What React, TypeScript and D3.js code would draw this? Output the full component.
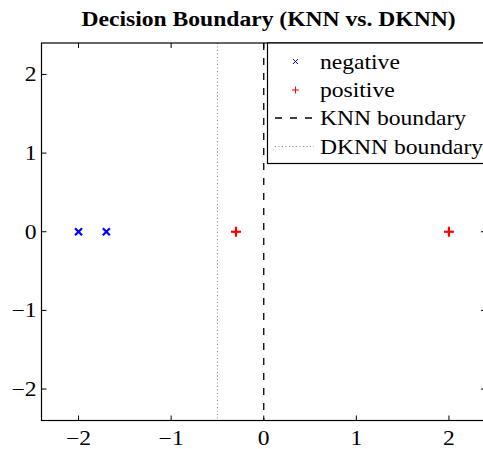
import React from "react";
import * as d3 from "d3";

const negX = [-2, -1.7];
const negY = [0, 0];
const posX = [-0.3, 2];
const posY = [0, 0];
const knnBoundary = 0;
const dknnBoundary = -0.5;
const xTicks = [-2, -1, 0, 1, 2];
const yTicks = [-2, -1, 0, 1, 2];
const legendLabels = ["negative", "positive", "KNN boundary", "DKNN boundary"];
const title = "Decision Boundary (KNN vs. DKNN)";

const W = 483, H = 449;
const L = 41.5, R = 486, T = 43, B = 420.5;
const SX = 1.18;

export default function App() {
  const x = d3.scaleLinear().domain([-2.4, 2.4]).range([L, R]);
  const y = d3.scaleLinear().domain([-2.4, 2.4]).range([B, T]);
  const font = "'Liberation Serif', 'Times New Roman', serif";
  const fmt = (t: number) => (t < 0 ? "\u2212" + Math.abs(t) : String(t));
  const T_ = (props: { x: number; y: number; anchor?: string; size: number; bold?: boolean; children: string }) => (
    <text
      transform={`translate(${props.x},${props.y}) scale(${SX},1)`}
      textAnchor={props.anchor || "start"}
      fontFamily={font}
      fontWeight={props.bold ? "bold" : "normal"}
      fontSize={props.size}
    >
      {props.children}
    </text>
  );
  const cross = (cx: number, cy: number, s: number, sw: number, key: string) => (
    <g key={key} stroke="#0000ff" strokeWidth={sw}>
      <line x1={cx - s} y1={cy - s} x2={cx + s} y2={cy + s} />
      <line x1={cx - s} y1={cy + s} x2={cx + s} y2={cy - s} />
    </g>
  );
  const plus = (cx: number, cy: number, s: number, sw: number, key: string) => (
    <g key={key} stroke="#ff0000" strokeWidth={sw}>
      <line x1={cx - s} y1={cy} x2={cx + s} y2={cy} />
      <line x1={cx} y1={cy - s} x2={cx} y2={cy + s} />
    </g>
  );
  const legY = [61.5, 90, 118, 146.5];
  return (
    <svg width={W} height={H} style={{ position: "absolute", left: 0, top: 0, background: "#fff" }}>
      <rect x={0} y={0} width={W} height={H} fill="#fff" />
      <T_ x={268.5} y={26} anchor="middle" size={20} bold>
        {title}
      </T_>
      {/* boundaries */}
      <line x1={x(dknnBoundary)} x2={x(dknnBoundary)} y1={T} y2={B} stroke="#888" strokeWidth={1} strokeDasharray="1,2.5" />
      <line x1={x(knnBoundary)} x2={x(knnBoundary)} y1={T} y2={B} stroke="#000" strokeWidth={1.3} strokeDasharray="7,8" />
      {/* points */}
      {negX.map((v, i) => cross(x(v), y(negY[i]), 3.5, 2.2, "n" + i))}
      {posX.map((v, i) => plus(x(v), y(posY[i]), 5, 2.2, "p" + i))}
      {/* axes box */}
      <rect x={L} y={T} width={R - L} height={B - T} fill="none" stroke="#000" strokeWidth={1.2} />
      {xTicks.map((t) => (
        <g key={"xt" + t}>
          <line x1={x(t)} x2={x(t)} y1={B} y2={B - 5} stroke="#000" />
          <line x1={x(t)} x2={x(t)} y1={T} y2={T + 5} stroke="#000" />
          <T_ x={x(t)} y={444.5} anchor="middle" size={20}>
            {fmt(t)}
          </T_>
        </g>
      ))}
      {yTicks.map((t) => (
        <g key={"yt" + t}>
          <line x1={L} x2={L + 5} y1={y(t)} y2={y(t)} stroke="#000" />
          <line x1={R} x2={R - 5} y1={y(t)} y2={y(t)} stroke="#000" />
          <T_ x={L - 5} y={y(t) + 7} anchor="end" size={20}>
            {fmt(t)}
          </T_>
        </g>
      ))}
      {/* legend */}
      <rect x={267.5} y={43} width={230} height={120.5} fill="#fff" stroke="#000" strokeWidth={1.2} />
      {cross(295.5, legY[0], 2.5, 1, "lc")}
      {plus(295.5, legY[1], 3.5, 1, "lp")}
      <line x1={275} x2={314} y1={legY[2]} y2={legY[2]} stroke="#000" strokeWidth={1.3} strokeDasharray="7,8" />
      <line x1={275} x2={314} y1={legY[3]} y2={legY[3]} stroke="#888" strokeWidth={1} strokeDasharray="1,2.5" />
      {legendLabels.map((s, i) => (
        <T_ key={s} x={320} y={legY[i] + 7} size={20}>
          {s}
        </T_>
      ))}
    </svg>
  );
}
